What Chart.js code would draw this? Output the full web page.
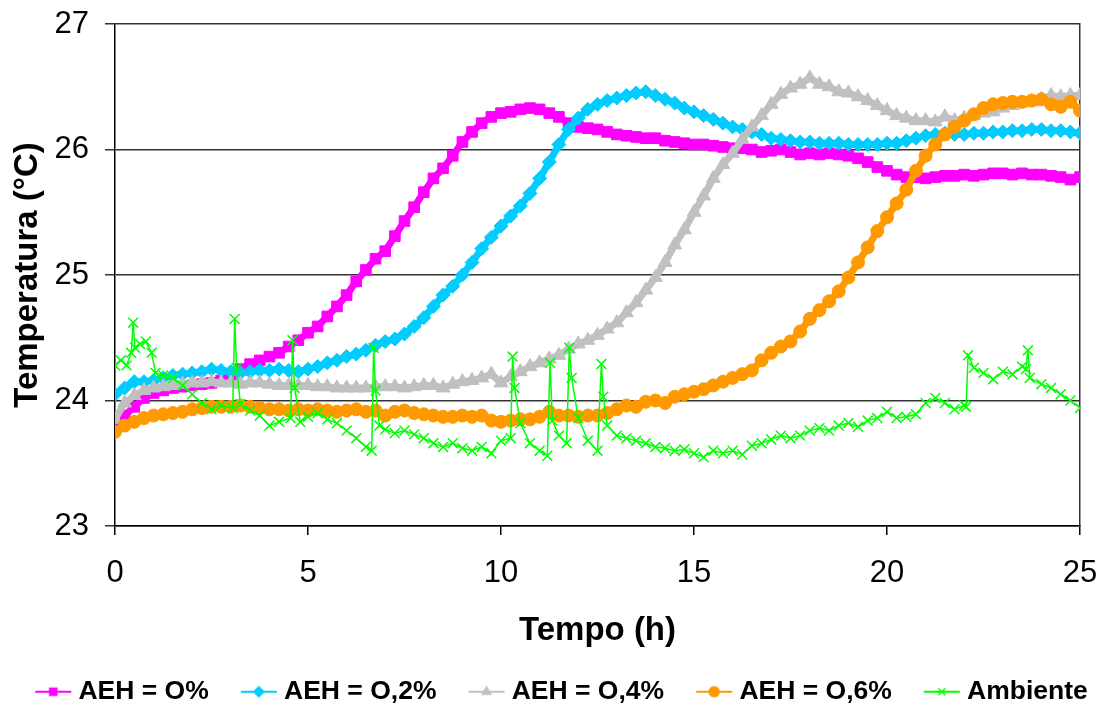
<!DOCTYPE html>
<html>
<head>
<meta charset="utf-8">
<script src="https://cdn.jsdelivr.net/npm/chart.js@4/dist/chart.umd.min.js"></script>
<style>
  html, body { margin: 0; padding: 0; background: #fff; }
  #wrap { width: 1109px; height: 709px; }
</style>
</head>
<body>
<div id="wrap"><canvas id="chart" width="1109" height="709"></canvas></div>
<script>
// time (h), one reading every 15 min
var hours = [
  0, 0.25, 0.5, 0.75, 1, 1.25, 1.5, 1.75, 2, 2.25,
  2.5, 2.75, 3, 3.25, 3.5, 3.75, 4, 4.25, 4.5, 4.75,
  5, 5.25, 5.5, 5.75, 6, 6.25, 6.5, 6.75, 7, 7.25,
  7.5, 7.75, 8, 8.25, 8.5, 8.75, 9, 9.25, 9.5, 9.75,
  10, 10.25, 10.5, 10.75, 11, 11.25, 11.5, 11.75, 12, 12.25,
  12.5, 12.75, 13, 13.25, 13.5, 13.75, 14, 14.25, 14.5, 14.75,
  15, 15.25, 15.5, 15.75, 16, 16.25, 16.5, 16.75, 17, 17.25,
  17.5, 17.75, 18, 18.25, 18.5, 18.75, 19, 19.25, 19.5, 19.75,
  20, 20.25, 20.5, 20.75, 21, 21.25, 21.5, 21.75, 22, 22.25,
  22.5, 22.75, 23, 23.25, 23.5, 23.75, 24, 24.25, 24.5, 24.75,
  25
];

var aeh0 = [
  23.80, 23.88, 23.95, 24.02, 24.06, 24.08, 24.10, 24.11, 24.12, 24.13,
  24.14, 24.16, 24.19, 24.25, 24.29, 24.32, 24.35, 24.38, 24.43, 24.48,
  24.54, 24.59, 24.67, 24.75, 24.84, 24.95, 25.04, 25.13, 25.19, 25.31,
  25.43, 25.54, 25.66, 25.77, 25.85, 25.95, 26.06, 26.14, 26.21, 26.26,
  26.29, 26.30, 26.32, 26.33, 26.32, 26.29, 26.26, 26.21, 26.18, 26.17,
  26.16, 26.14, 26.12, 26.11, 26.10, 26.09, 26.09, 26.07, 26.06, 26.05,
  26.04, 26.04, 26.03, 26.02, 26.01, 26.01, 26.00, 25.98, 25.99, 26.00,
  25.98, 25.96, 25.97, 25.96, 25.97, 25.96, 25.95, 25.93, 25.90, 25.86,
  25.83, 25.80, 25.78, 25.78, 25.77, 25.78, 25.79, 25.79, 25.80, 25.79,
  25.80, 25.81, 25.81, 25.80, 25.81, 25.80, 25.80, 25.79, 25.78, 25.76,
  25.78
];

var aeh02 = [
  24.05, 24.10, 24.15, 24.15, 24.16, 24.18, 24.20, 24.21, 24.22, 24.23,
  24.25, 24.24, 24.23, 24.22, 24.23, 24.24, 24.24, 24.25, 24.24, 24.23,
  24.25, 24.27, 24.30, 24.32, 24.35, 24.37, 24.40, 24.44, 24.47, 24.49,
  24.53, 24.59, 24.66, 24.75, 24.84, 24.91, 25.00, 25.10, 25.21, 25.30,
  25.39, 25.47, 25.55, 25.65, 25.77, 25.90, 26.04, 26.16, 26.25, 26.32,
  26.36, 26.39, 26.41, 26.43, 26.45, 26.46, 26.43, 26.40, 26.37, 26.33,
  26.30, 26.27, 26.24, 26.21, 26.18, 26.16, 26.14, 26.12, 26.09, 26.08,
  26.07, 26.06, 26.06, 26.05, 26.05, 26.05, 26.04, 26.04, 26.04, 26.04,
  26.05, 26.05, 26.07, 26.09, 26.11, 26.12, 26.13, 26.12, 26.12, 26.13,
  26.13, 26.14, 26.14, 26.15, 26.15, 26.16, 26.16, 26.15, 26.15, 26.14,
  26.13
];

var aeh04 = [
  23.85, 23.98, 24.04, 24.08, 24.10, 24.11, 24.12, 24.13, 24.14, 24.14,
  24.15, 24.14, 24.14, 24.13, 24.14, 24.14, 24.13, 24.12, 24.12, 24.12,
  24.12, 24.11, 24.11, 24.10, 24.10, 24.10, 24.10, 24.11, 24.11, 24.11,
  24.10, 24.11, 24.12, 24.12, 24.10, 24.13, 24.15, 24.16, 24.18, 24.21,
  24.14, 24.19, 24.23, 24.27, 24.30, 24.33, 24.36, 24.41, 24.45, 24.48,
  24.52, 24.57, 24.62, 24.70, 24.78, 24.88, 24.98, 25.10, 25.24, 25.36,
  25.50, 25.63, 25.77, 25.88, 25.97, 26.08, 26.18, 26.27, 26.36, 26.44,
  26.49, 26.52, 26.57, 26.52, 26.50, 26.46, 26.45, 26.42, 26.39, 26.35,
  26.31, 26.27, 26.25, 26.23, 26.23, 26.22, 26.26, 26.23, 26.25, 26.27,
  26.29, 26.30, 26.33, 26.35, 26.37, 26.38, 26.40, 26.43, 26.42, 26.43,
  26.43
];

var aeh06 = [
  23.75, 23.80, 23.83, 23.86, 23.88, 23.89, 23.90, 23.91, 23.93, 23.94,
  23.95, 23.95, 23.95, 23.96, 23.95, 23.94, 23.93, 23.93, 23.92, 23.93,
  23.92, 23.93, 23.92, 23.91, 23.92, 23.93, 23.91, 23.92, 23.88, 23.91,
  23.92, 23.90, 23.89, 23.88, 23.87, 23.87, 23.88, 23.87, 23.88, 23.84,
  23.83, 23.84, 23.85, 23.85, 23.87, 23.91, 23.88, 23.88, 23.87, 23.88,
  23.88, 23.90, 23.93, 23.96, 23.95, 23.99, 24.00, 23.98, 24.03, 24.05,
  24.07, 24.09, 24.12, 24.15, 24.18, 24.21, 24.24, 24.32, 24.38, 24.43,
  24.47, 24.55, 24.65, 24.72, 24.79, 24.87, 24.98, 25.10, 25.22, 25.35,
  25.46, 25.57, 25.68, 25.83, 25.95, 26.04, 26.12, 26.18, 26.23, 26.28,
  26.33, 26.36, 26.37, 26.38, 26.38, 26.39, 26.40, 26.36, 26.34, 26.38,
  26.31
];

// ambient readings, with the short spikes kept at their own times
var ambHours = [
  0, 0.15, 0.3, 0.42, 0.47, 0.52, 0.65, 0.8, 0.95, 1.05,
  1.25, 1.5, 1.75, 2, 2.25, 2.5, 2.75, 3.05, 3.1, 3.15,
  3.25, 3.5, 3.75, 4, 4.25, 4.55, 4.6, 4.65, 4.8, 5,
  5.25, 5.5, 5.75, 6, 6.25, 6.5, 6.65, 6.7, 6.75, 6.85,
  7, 7.25, 7.5, 7.75, 8, 8.25, 8.5, 8.75, 9, 9.25,
  9.5, 9.75, 10, 10.25, 10.3, 10.35, 10.5, 10.75, 11, 11.2,
  11.27, 11.33, 11.5, 11.7, 11.77, 11.83, 12, 12.25, 12.5, 12.6,
  12.65, 12.75, 13, 13.25, 13.5, 13.75, 14, 14.25, 14.5, 14.75,
  15, 15.25, 15.5, 15.75, 16, 16.25, 16.5, 16.75, 17, 17.25,
  17.5, 17.75, 18, 18.25, 18.5, 18.75, 19, 19.25, 19.5, 19.75,
  20, 20.25, 20.5, 20.75, 21, 21.25, 21.5, 21.75, 22, 22.05,
  22.1, 22.25, 22.5, 22.75, 23, 23.25, 23.5, 23.6, 23.65, 23.7,
  24, 24.25, 24.5, 24.75, 25
];
var ambTemp = [
  24.28, 24.32, 24.28, 24.38, 24.62, 24.42, 24.45, 24.47, 24.38, 24.22,
  24.20, 24.18, 24.12, 24.05, 23.98, 23.93, 23.96, 23.94, 24.65, 24.26,
  23.97, 23.92, 23.88, 23.80, 23.83, 23.86, 24.48, 24.10, 23.83, 23.87,
  23.90, 23.85, 23.82, 23.76, 23.70, 23.63, 23.60, 24.42, 24.08, 23.80,
  23.77, 23.74, 23.76, 23.73, 23.70, 23.66, 23.63, 23.66, 23.62, 23.60,
  23.63, 23.58, 23.68, 23.70, 24.35, 24.10, 23.82, 23.66, 23.60, 23.56,
  24.30, 23.84, 23.72, 23.66, 24.42, 24.18, 23.86, 23.68, 23.60, 24.29,
  24.03, 23.80, 23.72, 23.70, 23.68, 23.66, 23.63, 23.62, 23.60, 23.61,
  23.58, 23.55, 23.60, 23.58, 23.60, 23.57, 23.64, 23.66, 23.69, 23.72,
  23.70, 23.72, 23.76, 23.78, 23.76, 23.80, 23.82, 23.79, 23.84, 23.86,
  23.91, 23.86, 23.87, 23.89, 23.98, 24.02, 23.98, 23.93, 23.96, 23.95,
  24.36, 24.26, 24.22, 24.17, 24.23, 24.21, 24.27, 24.25, 24.40, 24.18,
  24.13, 24.10, 24.05, 24.00, 23.94
];

var seriesNames = ['AEH = O%', 'AEH = O,2%', 'AEH = O,4%', 'AEH = O,6%', 'Ambiente'];
var seriesColors = ['#FF00FF', '#00CCFF', '#C0C0C0', '#FF9900', '#00FF00'];
var seriesMarkers = ['rect', 'rectRot', 'triangle', 'circle', 'crossRot'];
var markerSizes = [7.5, 7, 8, 6.5, 7];

Chart.defaults.font.family = '"Liberation Sans", Arial, sans-serif';
Chart.defaults.color = '#000';

function toPoints(xs, ys) {
  return xs.map(function (x, i) { return {x: x, y: ys[i]}; });
}

// line + marker picture for the legend; the canvas is wider than the legend box
// so the symbol sits close to its text like in the spreadsheet legend
function legendSymbol(color, marker) {
  var c = document.createElement('canvas');
  c.width = 60;
  c.height = 16;
  var ctx = c.getContext('2d');
  ctx.strokeStyle = color;
  ctx.fillStyle = color;
  ctx.lineWidth = 2;
  ctx.beginPath();
  ctx.moveTo(22, 8);
  ctx.lineTo(58, 8);
  ctx.stroke();
  ctx.lineWidth = 1.5;
  Chart.helpers.drawPoint(ctx, {pointStyle: marker, radius: 5, borderWidth: 1.5, rotation: 0}, 40, 8);
  return c;
}

var smooth = [aeh0, aeh02, aeh04, aeh06];
var datasets = smooth.map(function (vals, i) {
  return {
    label: seriesNames[i],
    data: toPoints(hours, vals),
    borderColor: seriesColors[i],
    backgroundColor: seriesColors[i],
    borderWidth: 7,
    pointStyle: seriesMarkers[i],
    pointRadius: markerSizes[i],
    pointBorderWidth: 1,
    order: 4 - i
  };
});
datasets.push({
  label: seriesNames[4],
  data: toPoints(ambHours, ambTemp),
  borderColor: seriesColors[4],
  backgroundColor: seriesColors[4],
  borderWidth: 1.5,
  pointStyle: seriesMarkers[4],
  pointRadius: markerSizes[4],
  pointBorderWidth: 1.5,
  order: 0
});

var symbols = seriesColors.map(function (c, i) { return legendSymbol(c, seriesMarkers[i]); });

new Chart(document.getElementById('chart'), {
  type: 'line',
  data: {datasets: datasets},
  options: {
    responsive: false,
    animation: false,
    layout: {padding: {left: 0, right: 0, top: 24, bottom: -6}},
    plugins: {
      tooltip: {enabled: false},
      legend: {
        position: 'bottom',
        labels: {
          usePointStyle: true,
          pointStyleWidth: 44,
          padding: 18,
          color: '#000',
          font: {size: 26.5, weight: 'bold'},
          sort: function (a, b) { return a.datasetIndex - b.datasetIndex; },
          generateLabels: function (chart) {
            var items = Chart.defaults.plugins.legend.labels.generateLabels(chart);
            items.forEach(function (it) { it.pointStyle = symbols[it.datasetIndex]; });
            return items;
          }
        }
      }
    },
    scales: {
      x: {
        type: 'linear',
        min: 0,
        max: 25,
        ticks: {stepSize: 5, padding: 20, maxRotation: 0, font: {size: 31}},
        grid: {drawOnChartArea: false, drawTicks: true, tickLength: 9, color: '#000', lineWidth: 1.5},
        border: {color: '#000', width: 1.5},
        title: {display: true, text: 'Tempo (h)', font: {size: 33, weight: 'bold'}, padding: {top: 0, bottom: 9.7}},
        afterFit: function (s) { s.height = 134.5; s.paddingLeft = 0; s.paddingRight = 0; }
      },
      y: {
        min: 23,
        max: 27,
        ticks: {stepSize: 1, padding: 16, font: {size: 31}},
        grid: {color: '#333', lineWidth: 1.5, tickLength: 10},
        border: {color: '#000', width: 1.5},
        title: {display: true, text: 'Temperatura (°C)', font: {size: 33, weight: 'bold'}, padding: {top: 8, bottom: 0}},
        afterFit: function (s) { s.width = 115; s.paddingTop = 0; s.paddingBottom = 0; }
      },
      y2: {
        position: 'right',
        min: 23,
        max: 27,
        ticks: {display: false},
        grid: {display: false},
        border: {color: '#333', width: 1.5},
        afterFit: function (s) { s.width = 29; s.paddingTop = 0; s.paddingBottom = 0; }
      }
    }
  }
});
</script>
</body>
</html>
